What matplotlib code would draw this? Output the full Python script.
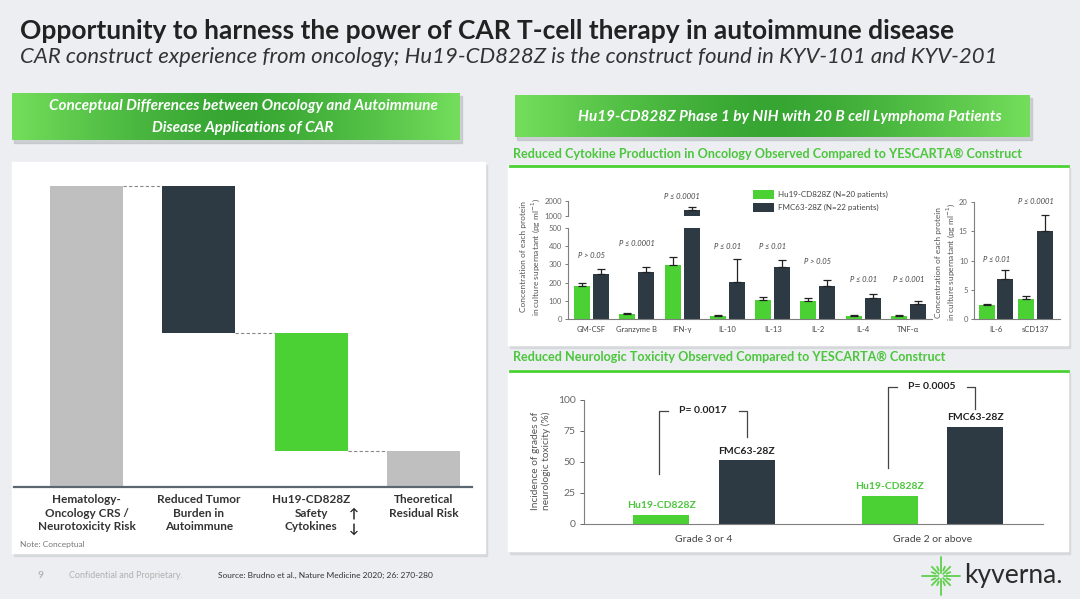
import numpy as np
import matplotlib
matplotlib.use('Agg')
import matplotlib.pyplot as plt
from matplotlib.patches import Rectangle
from matplotlib.colors import to_rgb

plt.rcParams['font.family'] = ['Lato', 'DejaVu Sans']

W, H = 1080, 599
BG = '#eceef1'
GREEN = '#4bd134'
DARK = '#2d3a44'
GREY = '#bfbfbf'
TXT_GREEN = '#4cc63c'
AXC = '#7f7f7f'

# ---- data ----
wf_labels = ['Hematology-\nOncology CRS /\nNeurotoxicity Risk',
             'Reduced Tumor\nBurden in\nAutoimmune',
             'Hu19-CD828Z\nSafety\nCytokines',
             'Theoretical\nResidual Risk']
wf_start = 100          # conceptual, no units
wf_drops = [49, 39]     # reduced tumor burden, safety cytokines

cyto = ['GM-CSF', 'Granzyme B', 'IFN-γ', 'IL-10', 'IL-13', 'IL-2', 'IL-4', 'TNF-α']
cyto_hu = [184, 26, 294, 18, 106, 97, 18, 18]
cyto_hu_err = [16, 9, 44, 6, 14, 16, 4, 4]
cyto_fmc = [245, 257, 1380, 204, 285, 179, 115, 80]
cyto_fmc_err = [30, 28, 200, 128, 40, 38, 25, 18]
cyto_p = ['P > 0.05', 'P ≤ 0.0001', 'P ≤ 0.0001', 'P ≤ 0.01',
          'P ≤ 0.01', 'P > 0.05', 'P ≤ 0.01', 'P ≤ 0.001']

cyto2 = ['IL-6', 'sCD137']
cyto2_hu = [2.4, 3.35]
cyto2_hu_err = [0.15, 0.65]
cyto2_fmc = [6.9, 15.0]
cyto2_fmc_err = [1.5, 2.7]
cyto2_p = ['P ≤ 0.01', 'P ≤ 0.0001']

grades = ['Grade 3 or 4', 'Grade 2 or above']
neuro_hu = [7, 22]
neuro_fmc = [51, 78]
neuro_p = ['P= 0.0017', 'P= 0.0005']


def px_axes(fig, x0, y0, x1, y1, **kw):
    return fig.add_axes([x0 / W, 1 - y1 / H, (x1 - x0) / W, (y1 - y0) / H], **kw)


def header(ax, x0, y0, x1, y1):
    t = np.linspace(0, 1, 300)
    dark = np.array(to_rgb('#36a532'))
    light = np.array(to_rgb('#74de5c'))
    w = np.abs(2 * t - 1) ** 1.4
    img = dark[None, :] * (1 - w[:, None]) + light[None, :] * w[:, None]
    ax.add_patch(Rectangle((x0 + 2, y0 + 3), x1 - x0, y1 - y0, color='#b8bcc0', alpha=0.6, zorder=1))
    ax.imshow(img[None, :, :], extent=(x0, x1, y1, y0), aspect='auto', zorder=2)


def panel(ax, x0, y0, x1, y1):
    ax.add_patch(Rectangle((x0 + 2, y0 + 3), x1 - x0, y1 - y0, color='#d6d9dc', zorder=1))
    ax.add_patch(Rectangle((x0, y0), x1 - x0, y1 - y0, color='white', zorder=1.5))


fig = plt.figure(figsize=(W / 100, H / 100), dpi=100, facecolor=BG)
bg = fig.add_axes([0, 0, 1, 1])
bg.set_xlim(0, W)
bg.set_ylim(H, 0)
bg.axis('off')

# titles
bg.text(20, 31, 'Opportunity to harness the power of CAR T-cell therapy in autoimmune disease',
        fontsize=19, fontweight='bold', color='#222222', va='center')
bg.text(20, 57, 'CAR construct experience from oncology; Hu19-CD828Z is the construct found in KYV-101 and KYV-201',
        fontsize=15.9, style='italic', color='#333333', va='center')

# left side
header(bg, 12, 93, 460, 140)
bg.text(243, 106, 'Conceptual Differences between Oncology and Autoimmune', fontsize=11,
        style='italic', fontweight='bold', color='white', ha='center', va='center', zorder=3)
bg.text(243, 128, 'Disease Applications of CAR', fontsize=11,
        style='italic', fontweight='bold', color='white', ha='center', va='center', zorder=3)
panel(bg, 12, 162, 485, 553)
bg.text(20, 544, 'Note: Conceptual', fontsize=6, color='#777777', va='center', zorder=3)

# right side
header(bg, 515, 95, 1030, 137)
bg.text(790, 117, 'Hu19-CD828Z Phase 1 by NIH with 20 B cell Lymphoma Patients', fontsize=11,
        style='italic', fontweight='bold', color='white', ha='center', va='center', zorder=3)
bg.text(513, 154, 'Reduced Cytokine Production in Oncology Observed Compared to YESCARTA® Construct',
        fontsize=9.1, fontweight='bold', color=TXT_GREEN, va='center', zorder=3)
panel(bg, 508, 165, 1068, 345)
bg.plot([510, 1068], [165.5, 165.5], color=GREEN, lw=2, zorder=3)
bg.text(513, 357, 'Reduced Neurologic Toxicity Observed Compared to YESCARTA® Construct',
        fontsize=9.1, fontweight='bold', color=TXT_GREEN, va='center', zorder=3)
panel(bg, 508, 370, 1068, 551)
bg.plot([510, 1068], [370.5, 370.5], color=GREEN, lw=2, zorder=3)

# footer
bg.text(38, 575, '9', fontsize=7.5, color='#aaaaaa', va='center')
bg.text(69, 575, 'Confidential and Proprietary.', fontsize=6.5, color='#b0b0b0', va='center')
bg.text(218, 575, 'Source: Brudno et al., Nature Medicine 2020; 26: 270-280', fontsize=6,
        color='#333333', va='center')
cx, cy = 941, 576
for ang in np.arange(0, 360, 22.5):
    r1 = 6 if ang % 45 else 3
    r2 = 19 if ang % 90 == 0 else (13 if ang % 45 == 0 else 10)
    a = np.deg2rad(ang)
    bg.plot([cx + r1 * np.cos(a), cx + r2 * np.cos(a)], [cy + r1 * np.sin(a), cy + r2 * np.sin(a)],
            color='#5fd14a', lw=1.3, solid_capstyle='round')
bg.text(964, 575, 'kyverna.', fontsize=19, color='#2b2b2b', va='center')

# ---- waterfall ----
wf = px_axes(fig, 14, 170, 472, 487)
wf.patch.set_alpha(0)
levels = [wf_start]
for d in wf_drops:
    levels.append(levels[-1] - d)
bottoms = [0, levels[1], levels[2], 0]
heights = [wf_start, wf_drops[0], wf_drops[1], levels[-1]]
colors = [GREY, DARK, GREEN, GREY]
xs = np.arange(4)
bw = 0.65
wf.bar(xs, heights, bottom=bottoms, width=bw, color=colors, zorder=2)
tops = [wf_start, levels[1], levels[2]]
for i, lv in enumerate(tops):
    wf.plot([i + bw / 2, i + 1 - bw / 2], [lv, lv], ls=(0, (3, 2)), color='#888888', lw=0.8)
wf.set_xlim(-0.645, 3.43)
wf.set_ylim(0, 105.3)
for s in ['top', 'right', 'left']:
    wf.spines[s].set_visible(False)
wf.spines['bottom'].set_color('#5b6670')
wf.spines['bottom'].set_linewidth(1.6)
wf.set_yticks([])
wf.set_xticks(xs)
wf.set_xticklabels(wf_labels, fontsize=8.5, fontweight='bold', color='#333333', linespacing=1.3)
wf.tick_params(axis='x', length=0, pad=5)
bg.text(354, 514, '↑', fontsize=9.5, fontweight='bold', color='#222222', ha='center', va='center', zorder=4)
bg.text(354, 529, '↓', fontsize=9.5, fontweight='bold', color='#222222', ha='center', va='center', zorder=4)

# ---- cytokine chart (broken axis) ----
lo = px_axes(fig, 568, 228, 932, 319)
hi = px_axes(fig, 568, 201, 932, 215.7)
x = np.arange(len(cyto))
off, cw = 0.21, 0.353
for ax in (lo, hi):
    ax.patch.set_alpha(0)
    ax.bar(x - off, cyto_hu, width=cw, color=GREEN, zorder=2, label='Hu19-CD828Z (N=20 patients)')
    ax.bar(x + off, cyto_fmc, width=cw, color=DARK, zorder=2, label='FMC63-28Z (N=22 patients)')
    ax.errorbar(x - off, cyto_hu, yerr=[np.zeros(len(x)), cyto_hu_err], fmt='none',
                ecolor='#222222', elinewidth=0.9, capsize=3, capthick=0.9, zorder=3)
    ax.errorbar(x + off, cyto_fmc, yerr=[np.zeros(len(x)), cyto_fmc_err], fmt='none',
                ecolor='#222222', elinewidth=0.9, capsize=3, capthick=0.9, zorder=3)
    ax.set_xlim(-0.52, 7.52)
    for s in ['top', 'right']:
        ax.spines[s].set_visible(False)
    ax.spines['left'].set_color(AXC)
    ax.spines['bottom'].set_color(AXC)
    ax.tick_params(axis='y', labelsize=5.5, colors='#666666', length=2.5, width=0.6, pad=2)
lo.set_ylim(0, 500)
lo.set_yticks(range(0, 501, 100))
lo.set_xticks(x)
lo.set_xticklabels(cyto, fontsize=5.5, color='#444444')
lo.tick_params(axis='x', length=0, pad=5)
hi.set_ylim(1000, 2000)
hi.set_yticks([1000, 2000])
hi.spines['bottom'].set_visible(False)
hi.set_xticks([])
p_y = [350, 416, None, 400, 400, 317, 219, 219]
for i, (p, py) in enumerate(zip(cyto_p, p_y)):
    if py is None:
        hi.text(i, 2330, p, fontsize=5.5, style='italic', color='#444444', ha='center', va='center')
    else:
        lo.text(i, py, p, fontsize=5.5, style='italic', color='#444444', ha='center', va='center')
lo.legend(loc='upper left', bbox_to_anchor=(750 / W, 1 - 187 / H), bbox_transform=fig.transFigure,
          frameon=False, fontsize=5.8, handlelength=2.6, handleheight=1.3, labelspacing=0.5,
          handletextpad=0.5, borderaxespad=0, labelcolor='#444444')
bg.text(531, 257, 'Concentration of each protein\nin culture supernatant (pg ml$^{-1}$)', fontsize=6,
        color='#555555', rotation=90, ha='center', va='center', linespacing=1.3, zorder=3)

# small cytokine chart
sm = px_axes(fig, 974, 202, 1060, 319)
sm.patch.set_alpha(0)
x2 = np.arange(len(cyto2))
off2, cw2 = 0.24, 0.405
sm.bar(x2 - off2, cyto2_hu, width=cw2, color=GREEN, zorder=2)
sm.bar(x2 + off2, cyto2_fmc, width=cw2, color=DARK, zorder=2)
sm.errorbar(x2 - off2, cyto2_hu, yerr=[np.zeros(2), cyto2_hu_err], fmt='none',
            ecolor='#222222', elinewidth=0.9, capsize=3, capthick=0.9, zorder=3)
sm.errorbar(x2 + off2, cyto2_fmc, yerr=[np.zeros(2), cyto2_fmc_err], fmt='none',
            ecolor='#222222', elinewidth=0.9, capsize=3, capthick=0.9, zorder=3)
sm.set_xlim(-0.557, 1.62)
sm.set_ylim(0, 20)
sm.set_yticks([0, 5, 10, 15, 20])
for s in ['top', 'right']:
    sm.spines[s].set_visible(False)
sm.spines['left'].set_color(AXC)
sm.spines['bottom'].set_color(AXC)
sm.tick_params(axis='y', labelsize=5.5, colors='#666666', length=2.5, width=0.6, pad=2)
sm.set_xticks(x2)
sm.set_xticklabels(cyto2, fontsize=5.5, color='#444444')
sm.tick_params(axis='x', length=0, pad=5)
for i, (p, py) in enumerate(zip(cyto2_p, [10.1, 20])):
    sm.text(i, py, p, fontsize=5.5, style='italic', color='#444444', ha='center', va='center', clip_on=False)
bg.text(946, 262, 'Concentration of each protein\nin culture supernatant (pg ml$^{-1}$)', fontsize=6,
        color='#555555', rotation=90, ha='center', va='center', linespacing=1.3, zorder=3)

# ---- neurologic toxicity chart ----
nt = px_axes(fig, 584, 399.7, 1043, 523.7)
nt.patch.set_alpha(0)
xg = np.arange(len(grades))
offn, nw = 0.187, 0.245
nt.bar(xg - offn, neuro_hu, width=nw, color=GREEN, zorder=2)
nt.bar(xg + offn, neuro_fmc, width=nw, color=DARK, zorder=2)
nt.set_xlim(-0.525, 1.484)
nt.set_ylim(0, 100)
nt.set_yticks([0, 25, 50, 75, 100])
for s in ['top', 'right']:
    nt.spines[s].set_visible(False)
nt.spines['left'].set_color(AXC)
nt.spines['bottom'].set_color(AXC)
nt.tick_params(axis='y', labelsize=7.5, colors='#666666', length=3, width=0.7, pad=3)
nt.set_xticks(xg)
nt.set_xticklabels(grades, fontsize=7.5, color='#444444')
nt.tick_params(axis='x', length=0, pad=8)
for i in range(len(grades)):
    nt.text(i - offn, neuro_hu[i] + 8, 'Hu19-CD828Z', fontsize=7.5, fontweight='bold',
            color=TXT_GREEN, ha='center', va='center')
    nt.text(i + offn, neuro_fmc[i] + 7.5, 'FMC63-28Z', fontsize=7.5, fontweight='bold',
            color='#222222', ha='center', va='center')
brackets = [(-0.197, 40, 91, 0.19, 70), (0.805, 44.6, 110.5, 1.186, 92.5)]
for i, (xl, yl, yt, xr, yr) in enumerate(brackets):
    xc = (xl + xr) / 2
    nt.plot([xl, xl, xl + 0.04], [yl, yt, yt], color='#444444', lw=0.9, clip_on=False)
    nt.plot([xr - 0.035, xr, xr], [yt, yt, yr], color='#444444', lw=0.9, clip_on=False)
    nt.text(xc, yt, neuro_p[i], fontsize=7.5, fontweight='bold', color='#222222',
            ha='center', va='center', clip_on=False)
bg.text(541, 461, 'Incidence of grades of\nneurologic toxicity (%)', fontsize=7.3,
        color='#555555', rotation=90, ha='center', va='center', linespacing=1.25, zorder=3)

fig.savefig('out.png', dpi=100, facecolor=BG)
